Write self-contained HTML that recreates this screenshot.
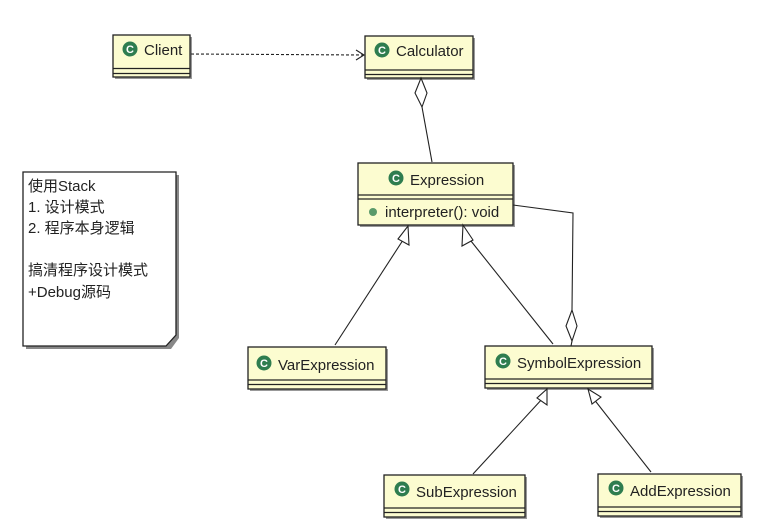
<!DOCTYPE html>
<html><head><meta charset="utf-8"><style>
html,body{margin:0;padding:0;background:#fff;}
svg{display:block;}
text{font-family:"Liberation Sans","Noto Sans CJK SC",sans-serif;font-size:15px;fill:#222;}
</style></head><body>
<svg width="758" height="529" viewBox="0 0 758 529" xmlns="http://www.w3.org/2000/svg">
<defs>
<g id="ic"><circle r="7.5" fill="#2e7d4f"/><text x="0" y="4" text-anchor="middle" style="font-size:11px;font-weight:bold;fill:#fff">C</text></g>
</defs>
<g stroke="#222" stroke-width="1.3" fill="#fcfcd0">
<rect x="115" y="37" width="77" height="42" fill="#999" stroke="none"/>
<rect x="113" y="35" width="77" height="42"/>
<line x1="113" y1="68.5" x2="190" y2="68.5"/><line x1="113" y1="73.5" x2="190" y2="73.5"/>
<rect x="367" y="38" width="108" height="42" fill="#999" stroke="none"/>
<rect x="365" y="36" width="108" height="42"/>
<line x1="365" y1="70" x2="473" y2="70"/><line x1="365" y1="74.5" x2="473" y2="74.5"/>
<rect x="360" y="165" width="155" height="62" fill="#999" stroke="none"/>
<rect x="358" y="163" width="155" height="62"/>
<line x1="358" y1="195" x2="513" y2="195"/><line x1="358" y1="199" x2="513" y2="199"/>
<rect x="250" y="349" width="138" height="42" fill="#999" stroke="none"/>
<rect x="248" y="347" width="138" height="42"/>
<line x1="248" y1="380" x2="386" y2="380"/><line x1="248" y1="384.5" x2="386" y2="384.5"/>
<rect x="487" y="348" width="167" height="42" fill="#999" stroke="none"/>
<rect x="485" y="346" width="167" height="42"/>
<line x1="485" y1="379" x2="652" y2="379"/><line x1="485" y1="383.5" x2="652" y2="383.5"/>
<rect x="386" y="477" width="141" height="42" fill="#999" stroke="none"/>
<rect x="384" y="475" width="141" height="42"/>
<line x1="384" y1="508" x2="525" y2="508"/><line x1="384" y1="512.5" x2="525" y2="512.5"/>
<rect x="600" y="476" width="143" height="42" fill="#999" stroke="none"/>
<rect x="598" y="474" width="143" height="42"/>
<line x1="598" y1="507" x2="741" y2="507"/><line x1="598" y1="511.5" x2="741" y2="511.5"/>
<path d="M26 175 H179 V338 L171 349 H26 Z" fill="#888" stroke="none"/>
<path d="M23 172 H176 V335 L166 346 H23 Z" fill="#fff"/>
</g>
<use href="#ic" x="130" y="49"/><text x="144" y="55">Client</text>
<use href="#ic" x="382" y="50"/><text x="396" y="56">Calculator</text>
<use href="#ic" x="396" y="178"/><text x="410" y="185">Expression</text>
<circle cx="373" cy="212" r="4" fill="#5a9a6a"/><text x="385" y="217">interpreter(): void</text>
<use href="#ic" x="264" y="363"/><text x="278" y="370">VarExpression</text>
<use href="#ic" x="503" y="361"/><text x="517" y="368">SymbolExpression</text>
<use href="#ic" x="402" y="489"/><text x="416" y="497">SubExpression</text>
<use href="#ic" x="616" y="488"/><text x="630" y="496">AddExpression</text>
<g style="font-size:13.5px">
<text x="28" y="191">使用Stack</text>
<text x="28" y="212">1. 设计模式</text>
<text x="28" y="233">2. 程序本身逻辑</text>
<text x="28" y="275">搞清程序设计模式</text>
<text x="28" y="297">+Debug源码</text>
</g>
<g stroke="#222" stroke-width="1.1" fill="none">
<line x1="191" y1="54" x2="363" y2="55" stroke-dasharray="3,2"/>
<path d="M356 50 L364 55 L356 60"/>
<path d="M421 78 L427 93 L422 107 L415 93 Z" fill="#fff"/>
<path d="M422 107 L432 162"/>
<path d="M513 205 L573 213 L572 310"/>
<path d="M572 310 L577 326 L572 341 L566 326 Z" fill="#fff"/>
<line x1="572" y1="341" x2="571" y2="346"/>
<line x1="335" y1="345" x2="405" y2="237"/>
<path d="M408 226 L409 245 L398 239 Z" fill="#fff"/>
<line x1="553" y1="344" x2="467" y2="236"/>
<path d="M463 225 L473 240 L462 246 Z" fill="#fff"/>
<line x1="473" y1="474" x2="543" y2="398"/>
<path d="M547 389 L547 405 L537 398 Z" fill="#fff"/>
<line x1="651" y1="472" x2="593" y2="398"/>
<path d="M588 389 L601 397 L592 404 Z" fill="#fff"/>
</g>
</svg>
</body></html>
